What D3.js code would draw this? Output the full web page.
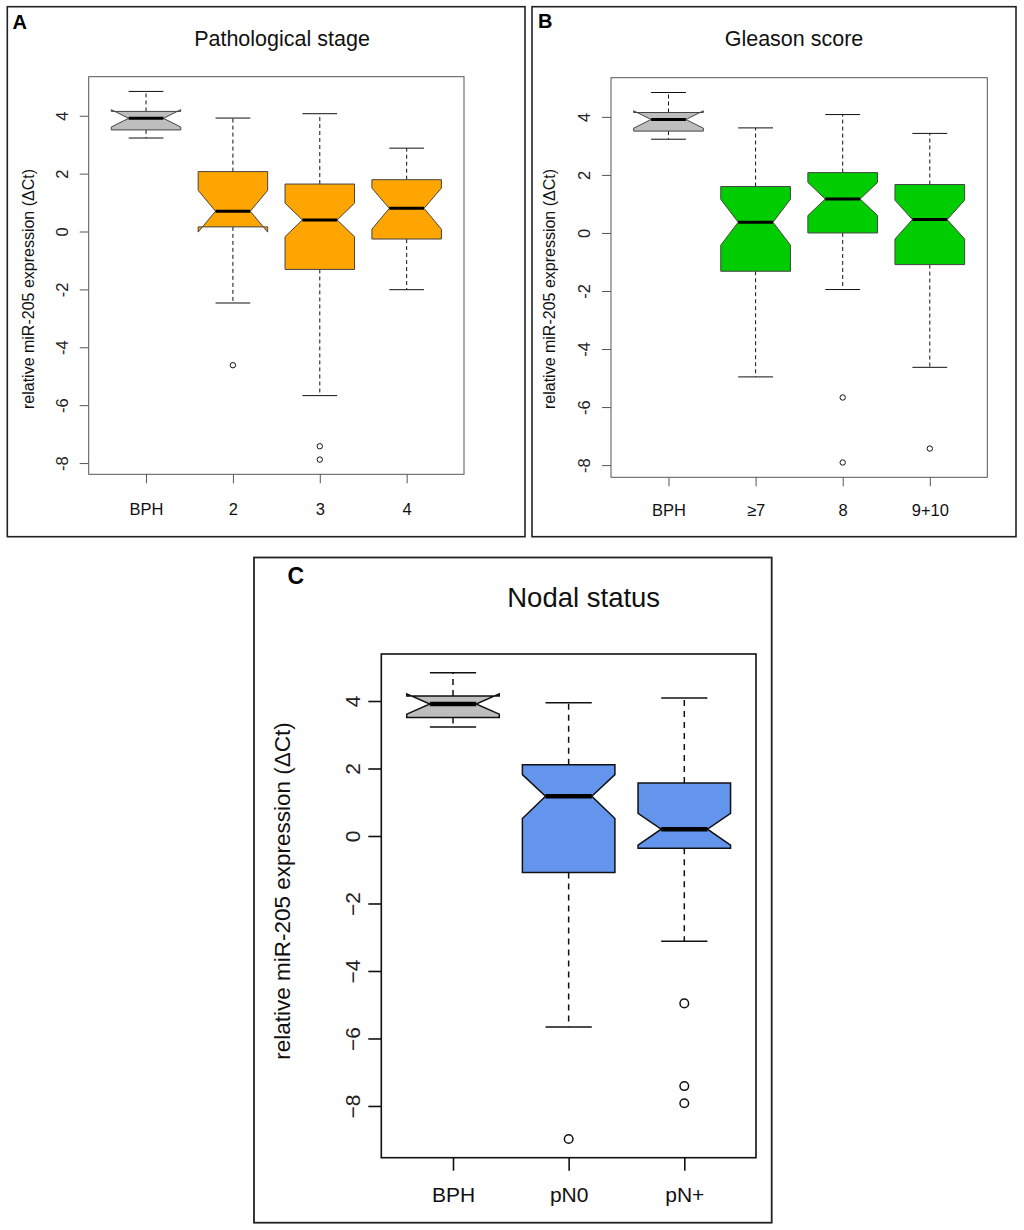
<!DOCTYPE html>
<html>
<head>
<meta charset="utf-8">
<script src="https://cdn.jsdelivr.net/npm/d3@7"></script>
<style>
  body { margin: 0; background: #fff; }
  text { font-family: "Liberation Sans", Arial, Helvetica, sans-serif; }
</style>
</head>
<body>
<div id="chart"></div>
<script>
// ---- data (box statistics in delta Ct) ----
// A: pathological stage
const stageCats    = ["BPH", "2", "3", "4"];
const stageLow     = [3.23, -2.47, -5.67, -2.01];
const stageQ1      = [3.51,  0.16, -1.31, -0.26];
const stageNotchLo = [3.61, -0.02, -0.18,  0.08];
const stageMedian  = [3.91,  0.70,  0.40,  0.80];
const stageNotchHi = [4.21,  1.42,  0.98,  1.50];
const stageQ3      = [4.15,  2.07,  1.64,  1.79];
const stageHigh    = [4.84,  3.92,  4.07,  2.88];
const stageOut     = [[], [-4.62], [-7.42, -7.88], []];

// B: Gleason score
const gleasonCats    = ["BPH", "≥7", "8", "9+10"];
const gleasonLow     = [3.23, -4.96, -1.95, -4.63];
const gleasonQ1      = [3.51, -1.32,  0.00, -1.09];
const gleasonNotchLo = [3.61, -0.42,  0.60, -0.21];
const gleasonMedian  = [3.91,  0.37,  1.17,  0.46];
const gleasonNotchHi = [4.21,  1.16,  1.74,  1.13];
const gleasonQ3      = [4.15,  1.60,  2.08,  1.67];
const gleasonHigh    = [4.84,  3.62,  4.08,  3.43];
const gleasonOut     = [[], [], [-5.67, -7.91], [-7.43]];

// C: nodal status
const nodalCats    = ["BPH", "pN0", "pN+"];
const nodalLow     = [3.23, -5.66, -3.12];
const nodalQ1      = [3.51, -1.08, -0.36];
const nodalNotchLo = [3.61,  0.52, -0.27];
const nodalMedian  = [3.91,  1.18,  0.20];
const nodalNotchHi = [4.21,  1.82,  0.67];
const nodalQ3      = [4.15,  2.11,  1.57];
const nodalHigh    = [4.84,  3.95,  4.09];
const nodalOut     = [[], [-8.98], [-4.96, -7.41, -7.92]];

const yTicks = [-8, -6, -4, -2, 0, 2, 4];

const svg = d3.select("#chart")
  .append("svg")
  .attr("width", 1024)
  .attr("height", 1230);

// panel layouts (pixel geometry taken from the figure)
const small = {
  frameW: 1.6, boxColor: "#444", boxW: 1, lw: 1, medW: 3, dash: "4,3", r: 2.7,
  tick: 9, tickFont: 16.5, yTickOff: 27, titleSize: 21.5, letterSize: 20,
  ylabSize: 16, minus: "-", plotStroke: "#555"
};
const panelA = Object.assign({}, small, {
  frame: [7.3, 6.7, 525, 536.7], plot: [88.7, 76.7, 464, 474.3],
  letter: "A", letterX: 12.5, letterY: 29,
  title: "Pathological stage", titleX: 282, titleY: 45.7,
  xLabY: 40.7, ylabX: 28, ylabY: 289
});
const panelB = Object.assign({}, small, {
  frame: [532, 6.7, 1016, 536.7], plot: [611, 77.7, 987.3, 477.3],
  letter: "B", letterX: 538, letterY: 28,
  title: "Gleason score", titleX: 794, titleY: 45.7,
  xLabY: 38.7, ylabX: 549, ylabY: 289
});
const panelC = {
  frameW: 1.8, boxColor: "#111", boxW: 1.6, lw: 1.5, medW: 4.5, dash: "6,5", r: 4.3,
  tick: 13, tickFont: 21, yTickOff: 29, titleSize: 27.5, letterSize: 23,
  ylabSize: 22.5, minus: "\u2212", plotStroke: "#111",
  frame: [254, 557.5, 771.7, 1222.7], plot: [381.3, 654, 756, 1157.7],
  letter: "C", letterX: 287.5, letterY: 583.5,
  title: "Nodal status", titleX: 583.7, titleY: 606.7,
  xLabY: 44, ylabX: 282, ylabY: 891
};

function drawPanel(p, cats, low, q1, nlo, med, nhi, q3, high, outs, fill) {
  const g = svg.append("g");
  const n = cats.length;

  // outer panel frame
  g.append("rect")
    .attr("x", p.frame[0]).attr("y", p.frame[1])
    .attr("width", p.frame[2] - p.frame[0])
    .attr("height", p.frame[3] - p.frame[1])
    .attr("fill", "none")
    .attr("stroke", "#222")
    .attr("stroke-width", p.frameW);

  // scales like R's boxplot: positions 1..n, 4% padding on both axes
  const x = d3.scaleLinear()
    .domain([0.5 - 0.04 * n, n + 0.5 + 0.04 * n])
    .range([p.plot[0], p.plot[2]]);
  const lo = d3.min(low.concat(outs.flat(), nlo));
  const hi = d3.max(high.concat(nhi));
  const pad = 0.04 * (hi - lo);
  const y = d3.scaleLinear()
    .domain([lo - pad, hi + pad])
    .range([p.plot[3], p.plot[1]]);

  // y axis, labels parallel to the axis
  const ya = g.append("g")
    .attr("transform", `translate(${p.plot[0]},0)`)
    .call(d3.axisLeft(y).tickValues(yTicks).tickSize(p.tick)
      .tickFormat(d => (d < 0 ? p.minus : "") + Math.abs(d)));
  ya.select(".domain").remove();
  ya.attr("font-size", p.tickFont).attr("color", p.plotStroke);
  ya.selectAll(".tick line").attr("stroke-width", p.boxW);
  ya.selectAll(".tick text")
    .attr("x", 0)
    .attr("fill", "#222")
    .attr("text-anchor", "middle")
    .attr("transform", `translate(${-p.yTickOff},0) rotate(-90)`)
    .attr("dy", "0.36em");

  // x axis with the group names
  const xa = g.append("g")
    .attr("transform", `translate(0,${p.plot[3]})`)
    .call(d3.axisBottom(x).tickValues(d3.range(1, n + 1)).tickSize(p.tick)
      .tickFormat(d => cats[d - 1]));
  xa.select(".domain").remove();
  xa.attr("font-size", p.tickFont).attr("color", p.plotStroke);
  xa.selectAll(".tick line").attr("stroke-width", p.boxW);
  xa.selectAll(".tick text")
    .attr("y", p.xLabY)
    .attr("dy", 0)
    .attr("fill", "#111");

  // plot box
  g.append("rect")
    .attr("x", p.plot[0]).attr("y", p.plot[1])
    .attr("width", p.plot[2] - p.plot[0])
    .attr("height", p.plot[3] - p.plot[1])
    .attr("fill", "none")
    .attr("stroke", p.plotStroke)
    .attr("stroke-width", p.boxW);

  const rows = cats.map((c, i) => ({
    pos: i + 1, low: low[i], q1: q1[i], nlo: nlo[i], med: med[i],
    nhi: nhi[i], q3: q3[i], high: high[i], out: outs[i],
    fill: i === 0 ? "#BEBEBE" : fill
  }));

  const bw = 0.4, nw = 0.2, sw = 0.2;

  // whiskers (dashed)
  g.selectAll(null).data(rows.flatMap(d => [[d.pos, d.q3, d.high], [d.pos, d.q1, d.low]]))
    .join("line")
      .attr("x1", d => x(d[0])).attr("x2", d => x(d[0]))
      .attr("y1", d => y(d[1])).attr("y2", d => y(d[2]))
      .attr("stroke", "#111")
      .attr("stroke-width", p.lw)
      .attr("stroke-dasharray", p.dash);

  // staples
  g.selectAll(null).data(rows.flatMap(d => [[d.pos, d.high], [d.pos, d.low]]))
    .join("line")
      .attr("x1", d => x(d[0] - sw)).attr("x2", d => x(d[0] + sw))
      .attr("y1", d => y(d[1])).attr("y2", d => y(d[1]))
      .attr("stroke", "#111")
      .attr("stroke-width", p.lw);

  // notched boxes
  const line = d3.line().x(d => x(d[0])).y(d => y(d[1]));
  g.selectAll(null).data(rows)
    .join("path")
      .attr("d", d => line([
        [d.pos - bw, d.q1], [d.pos + bw, d.q1], [d.pos + bw, d.nlo],
        [d.pos + nw, d.med], [d.pos + bw, d.nhi], [d.pos + bw, d.q3],
        [d.pos - bw, d.q3], [d.pos - bw, d.nhi], [d.pos - nw, d.med],
        [d.pos - bw, d.nlo]
      ]) + "Z")
      .attr("fill", d => d.fill)
      .attr("stroke", p.boxColor)
      .attr("stroke-width", p.lw)
      .attr("stroke-linejoin", "miter");

  // medians
  g.selectAll(null).data(rows)
    .join("line")
      .attr("x1", d => x(d.pos - nw)).attr("x2", d => x(d.pos + nw))
      .attr("y1", d => y(d.med)).attr("y2", d => y(d.med))
      .attr("stroke", "#000")
      .attr("stroke-width", p.medW);

  // outliers
  g.selectAll(null).data(rows.flatMap(d => d.out.map(v => [d.pos, v])))
    .join("circle")
      .attr("cx", d => x(d[0]))
      .attr("cy", d => y(d[1]))
      .attr("r", p.r)
      .attr("fill", "none")
      .attr("stroke", "#111")
      .attr("stroke-width", p.lw);

  // texts
  g.append("text")
    .attr("x", p.letterX).attr("y", p.letterY)
    .attr("font-size", p.letterSize)
    .attr("font-weight", "bold")
    .text(p.letter);
  g.append("text")
    .attr("x", p.titleX).attr("y", p.titleY)
    .attr("text-anchor", "middle")
    .attr("font-size", p.titleSize)
    .attr("fill", "#111")
    .text(p.title);
  g.append("text")
    .attr("transform", `translate(${p.ylabX},${p.ylabY}) rotate(-90)`)
    .attr("text-anchor", "middle")
    .attr("dy", "0.36em")
    .attr("font-size", p.ylabSize)
    .attr("fill", "#111")
    .text("relative miR-205 expression (\u0394Ct)");
}

drawPanel(panelA, stageCats, stageLow, stageQ1, stageNotchLo, stageMedian,
  stageNotchHi, stageQ3, stageHigh, stageOut, "#FFA500");
drawPanel(panelB, gleasonCats, gleasonLow, gleasonQ1, gleasonNotchLo, gleasonMedian,
  gleasonNotchHi, gleasonQ3, gleasonHigh, gleasonOut, "#00CD00");
drawPanel(panelC, nodalCats, nodalLow, nodalQ1, nodalNotchLo, nodalMedian,
  nodalNotchHi, nodalQ3, nodalHigh, nodalOut, "#6495ED");
</script>
</body>
</html>
